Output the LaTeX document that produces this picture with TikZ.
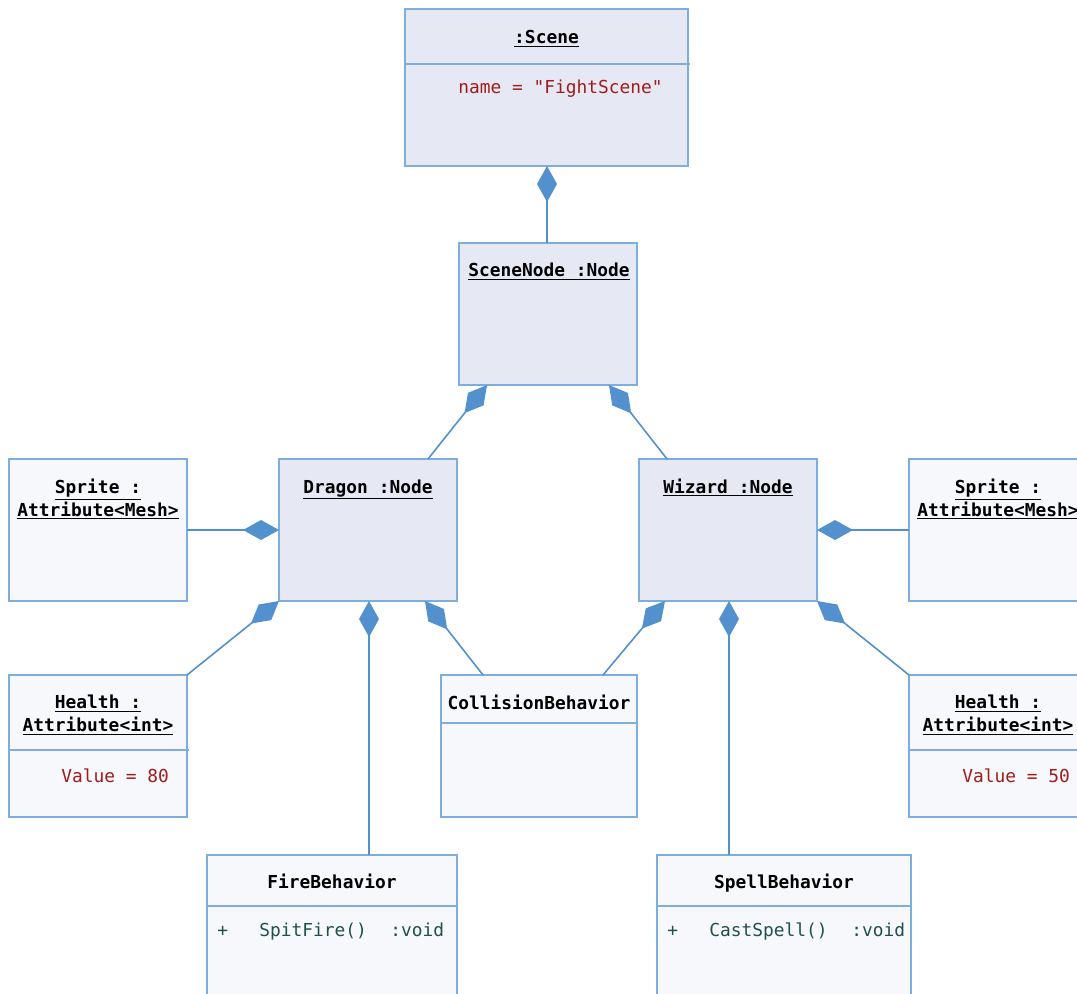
\documentclass[tikz,border=0pt]{standalone}
\usepackage{fontspec}
\setmonofont{DejaVu Sans Mono}
\usetikzlibrary{arrows.meta,calc}

\definecolor{boxline}{RGB}{126,174,222}
\definecolor{linkblue}{RGB}{82,145,206}
\definecolor{nodefill}{RGB}{230,233,244}
\definecolor{partfill}{RGB}{247,248,252}
\definecolor{valred}{RGB}{160,28,28}
\definecolor{methteal}{RGB}{30,80,80}

\tikzset{
  objbox/.style={draw=boxline, line width=1.4pt, fill=nodefill, inner sep=0pt, outer sep=0pt,
    minimum width=133.5pt, minimum height=106.5pt},
  partbox/.style={objbox, fill=partfill},
  divider/.style={draw=boxline, line width=1.2pt},
  objtitle/.style={font=\ttfamily\bfseries\fontsize{13.4}{17.25}\selectfont, align=center, inner sep=0pt},
  linetitle/.style={objtitle, anchor=base},
  attr/.style={font=\ttfamily\fontsize{13.4}{16}\selectfont, text=valred, anchor=base west, inner sep=0pt},
  meth/.style={attr, text=methteal},
  comp/.style={draw=linkblue, line width=1.2pt, {Diamond[length=27pt,width=15pt,fill=linkblue]}-},
}

\begin{document}
\begin{tikzpicture}[x=0.75pt,y=0.75pt,yscale=-1,xscale=1]
\clip (0,0) rectangle (1077,994);

%Shape: object boxes
\node[objbox, minimum width=212.25pt, minimum height=117.75pt] (scene) at (546.5,87.5) {};
\node[objbox] (scenenode) at (548,314) {};
\node[objbox] (dragon) at (368,530) {};
\node[objbox] (wizard) at (728,530) {};
\node[partbox] (spriteL) at (98,530) {};
\node[partbox] (spriteR) at (998,530) {};
\node[partbox] (healthL) at (98,746) {};
\node[partbox] (healthR) at (998,746) {};
\node[partbox, minimum width=147pt] (collision) at (539,746) {};
\node[partbox, minimum width=187.5pt] (fire) at (332,926) {};
\node[partbox, minimum width=190.5pt] (spell) at (784,926) {};

%Straight Lines: compartments
\draw[divider] ($(scene.north west)+(0,55)$) -- ($(scene.north east)+(2,55)$);
\draw[divider] ($(healthL.north west)+(0,75)$) -- ($(healthL.north east)+(2,75)$);
\draw[divider] ($(healthR.north west)+(0,75)$) -- ($(healthR.north east)+(0,75)$);
\draw[divider] ($(collision.north west)+(0,48)$) -- ($(collision.north east)+(0,48)$);
\draw[divider] ($(fire.north west)+(0,51)$) -- ($(fire.north east)+(0,51)$);
\draw[divider] ($(spell.north west)+(0,51)$) -- ($(spell.north east)+(0,51)$);

%Straight Lines: compositions
\draw[comp] ($(scene.south)+(0.5,0)$) -- ($(scenenode.north)+(-1,0)$);
\draw[comp] ($(scenenode.south west)+(28,0)$) -- ($(dragon.north west)+(149,0)$);
\draw[comp] ($(scenenode.south east)+(-28,0)$) -- ($(wizard.north west)+(28,0)$);
\draw[comp] (dragon.west) -- (spriteL.east);
\draw[comp] (dragon.south west) -- (healthL.north east);
\draw[comp] ($(dragon.south)+(1,0)$) -- ($(dragon.south |- fire.north)+(1,0)$);
\draw[comp] ($(dragon.south east)+(-32,0)$) -- ($(collision.north west)+(42,0)$);
\draw[comp] ($(wizard.south west)+(26,0)$) -- ($(collision.north east)+(-34,0)$);
\draw[comp] ($(wizard.south)+(1,0)$) -- ($(wizard.south |- spell.north)+(1,0)$);
\draw[comp] (wizard.south east) -- (healthR.north west);
\draw[comp] (wizard.east) -- (spriteR.west);

% Text Node
\node[linetitle] (sceneT) at ($(scene.north)+(0,35)$) {\underline{:Scene}};
\node[attr] (sceneA) at (458,94) {name = "FightScene"};
% Text Node
\node[linetitle] (scenenodeT) at ($(scenenode.north)+(1,34)$) {\underline{SceneNode :Node}};
\node[linetitle] (dragonT) at ($(dragon.north)+(0,34)$) {\underline{Dragon :Node}};
\node[linetitle] (wizardT) at ($(wizard.north)+(0,34)$) {\underline{Wizard :Node}};
% Text Node
\node[objtitle] (spriteLT) at ($(spriteL.north)+(0,40)$) {\underline{Sprite :}\\\underline{Attribute<Mesh>}};
\node[objtitle] (spriteRT) at ($(spriteR.north)+(0,40)$) {\underline{Sprite :}\\\underline{Attribute<Mesh>}};
\node[objtitle] (healthLT) at ($(healthL.north)+(0,40)$) {\underline{Health :}\\\underline{Attribute<int>}};
\node[objtitle] (healthRT) at ($(healthR.north)+(0,40)$) {\underline{Health :}\\\underline{Attribute<int>}};
\node[attr] (healthLA) at (61,782) {Value = 80};
\node[attr] (healthRA) at (962,782) {Value = 50};
% Text Node
\node[linetitle] (collisionT) at ($(collision.north)+(0,34)$) {CollisionBehavior};
\node[linetitle] (fireT) at ($(fire.north)+(0,33)$) {FireBehavior};
\node[meth] (fireP) at (217,936) {+};
\node[meth] (fireM) at (259,936) {SpitFire()};
\node[meth] (fireR) at (390,936) {:void};
\node[linetitle] (spellT) at ($(spell.north)+(0,33)$) {SpellBehavior};
\node[meth] (spellP) at (667,936) {+};
\node[meth] (spellM) at (709,936) {CastSpell()};
\node[meth] (spellR) at (851,936) {:void};

\end{tikzpicture}
\end{document}
